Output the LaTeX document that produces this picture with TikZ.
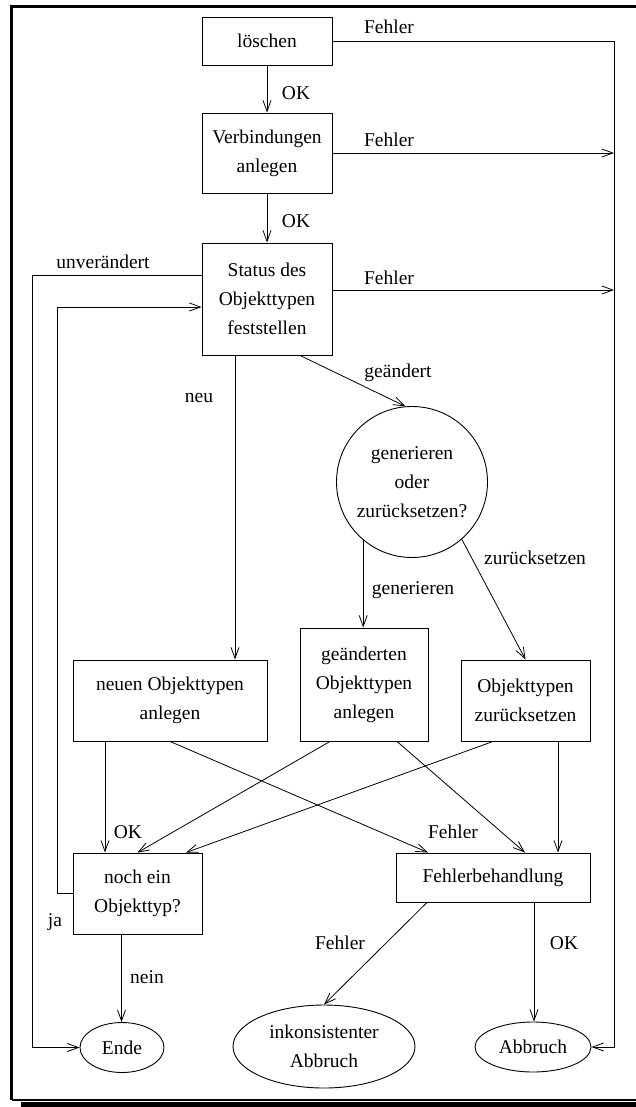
\documentclass[tikz,border=0pt]{standalone}
\usepackage{fontspec}
\setmainfont{Liberation Serif}
\usetikzlibrary{arrows.meta,shapes.geometric}
\begin{document}
\begin{tikzpicture}[x=1pt,y=-1pt,
  every node/.style={font=\fontsize{19.5}{29}\selectfont, inner sep=0pt, align=center},
  box/.style={draw, line width=0.9pt, rectangle},
  ell/.style={draw, line width=0.9pt, ellipse},
  lbl/.style={},
  conn/.style={line width=0.8pt},
  arr/.style={conn, -{Straight Barb[length=11pt,width=8pt,line width=0.8pt]}}]
\useasboundingbox (0,0) rectangle (635,1107);
% page frame with a dark shadow along the bottom
\fill[black] (21,1102) rectangle (640,1110);
\draw[line width=3.3pt] (11.7,1100) -- (11.7,6.7) -- (640,6.7);
\draw[line width=2pt] (11.7,1100) -- (640,1100);

% process steps
\node[box, minimum width=130, minimum height=48] (lo) at (267,41) {löschen};
\node[box, minimum width=130, minimum height=80] (vb) at (267,153) {Verbindungen\\anlegen};
\node[box, minimum width=130, minimum height=112] (st) at (267,299) {Status des\\Objekttypen\\feststellen};
\node[draw, line width=0.9pt, circle, minimum size=151] (gz) at (412,482) {generieren\\oder\\zurücksetzen?};
\node[box, minimum width=194, minimum height=81] (nn) at (170,700.5) {neuen Objekttypen\\anlegen};
\node[box, minimum width=128, minimum height=113] (ga) at (364,684.5) {geänderten\\Objekttypen\\anlegen};
\node[box, minimum width=129, minimum height=81] (zu) at (525.5,700.5) {Objekttypen\\zurücksetzen};
\node[box, minimum width=129, minimum height=81] (ne) at (137.5,893.5) {noch ein\\Objekttyp?};
\node[box, minimum width=194, minimum height=49] (fb) at (493,877.5) {Fehlerbehandlung};
\node[ell, minimum width=84, minimum height=50] (en) at (122,1047.5) {Ende};
\node[ell, minimum width=182, minimum height=83] (ik) at (324,1046.5) {inkonsistenter\\Abbruch};
\node[ell, minimum width=116, minimum height=50] (ab) at (533,1047) {Abbruch};

% corner points of the routed lines
\coordinate (rtop) at (614,41);
\coordinate (ul) at (32.4,275);
\coordinate (jl) at (57,893.5);

% error exits on the right
\draw[arr] (lo.east) -- (rtop) |- (ab.east);
\draw[arr] (vb.east) -- (vb.east -| rtop);
\draw[arr] ([yshift=9pt]st.east) -- ([yshift=9pt]st.east -| rtop);
\node (l1) at (389,27) {Fehler};
\node (l2) at (389,140) {Fehler};
\node (l3) at (389,278) {Fehler};

% main sequence
\draw[arr] (lo.south) -- (vb.north);
\draw[arr] (vb.south) -- (st.north);
\node (l4) at (296,93) {OK};
\node (l5) at (296,221) {OK};

% unchanged and loop back
\draw[arr] ([yshift=24pt]st.west) -- (ul) |- (en.west);
\node (l6) at (103,262) {unverändert};
\draw[arr] (ne.west) -- (jl) |- ([yshift=-8pt]st.west);
\node (l7) at (55,922) {ja};

% status branches
\draw[arr] ([xshift=-32pt]st.south) -- ([xshift=-32pt]st.south |- nn.north);
\node (l8) at (199,398) {neu};
\draw[arr] ([xshift=33pt]st.south) -- (gz.95);
\node (l9) at (398,373) {geändert};
\draw[arr] (gz.230.5) -- (gz.230.5 |- ga.north);
\node (l10) at (413,590) {generieren};
\draw[arr] (gz.311) -- (zu.north);
\node (l11) at (535,558) {zurücksetzen};

% results of the three actions
\draw[arr] ([xshift=-65pt]nn.south) -- ([xshift=-65pt]nn.south |- ne.north);
\draw[arr] (nn.south) -- ([xshift=-65pt]fb.north);
\draw[arr] ([xshift=-34pt]ga.south) -- (ne.north);
\draw[arr] ([xshift=33pt]ga.south) -- ([xshift=32pt]fb.north);
\draw[arr] ([xshift=-32.5pt]zu.south) -- ([xshift=48.5pt]ne.north);
\draw[arr] ([xshift=32.5pt]zu.south) -- ([xshift=32.5pt]zu.south |- fb.north);
\node (l12) at (128,832) {OK};
\node (l13) at (453,832) {Fehler};

% endings
\draw[arr] ([xshift=-16pt]ne.south) -- ([xshift=-16pt]ne.south |- en.north);
\node (l14) at (147,977) {nein};
\draw[arr] ([xshift=-66pt]fb.south) -- (ik.north);
\node (l15) at (340,943) {Fehler};
\draw[arr] ([xshift=41pt]fb.south) -- ([xshift=41pt]fb.south |- ab.north);
\node (l16) at (564,943) {OK};
\end{tikzpicture}
\end{document}
